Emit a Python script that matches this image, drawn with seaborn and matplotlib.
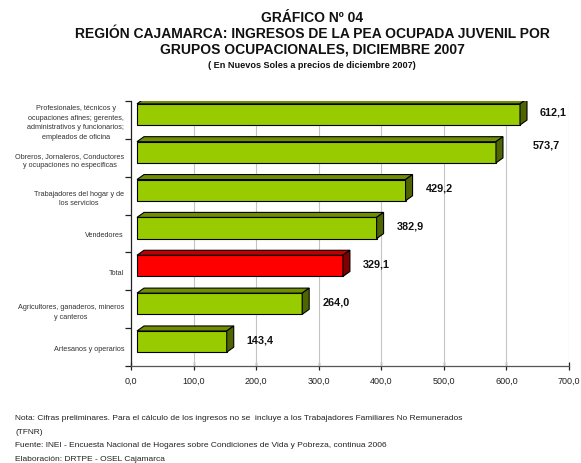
import matplotlib
matplotlib.use("Agg")
import matplotlib.pyplot as plt
import matplotlib.transforms as mtransforms
from matplotlib.patches import Polygon
import seaborn as sns
import pandas as pd

# data
categories = [
    "Profesionales, técnicos y\nocupaciones afines; gerentes,\nadministrativos y funcionarios;\nempleados de oficina",
    "Obreros, Jornaleros, Conductores\ny ocupaciones no especificas",
    "Trabajadores del hogar y de\nlos servicios",
    "Vendedores",
    "Total",
    "Agricultores, ganaderos, mineros\ny canteros",
    "Artesanos y operarios",
]
values = [612.1, 573.7, 429.2, 382.9, 329.1, 264.0, 143.4]
xticks = [0, 100, 200, 300, 400, 500, 600, 700]

title_lines = [
    "GRÁFICO Nº 04",
    "REGIÓN CAJAMARCA: INGRESOS DE LA PEA OCUPADA JUVENIL POR",
    "GRUPOS OCUPACIONALES, DICIEMBRE 2007",
]
subtitle = "( En Nuevos Soles a precios de diciembre 2007)"
notes = [
    "Nota: Cifras preliminares. Para el cálculo de los ingresos no se  incluye a los Trabajadores Familiares No Remunerados",
    "(TFNR)",
    "Fuente: INEI - Encuesta Nacional de Hogares sobre Condiciones de Vida y Pobreza, continua 2006",
    "Elaboración: DRTPE - OSEL Cajamarca",
]

def fmt(v):
    return f"{v:.1f}".replace(".", ",")

sns.set_style("white")
plt.rcParams["font.family"] = ["Liberation Sans", "DejaVu Sans"]

W, H = 581, 464
fig = plt.figure(figsize=(W / 100, H / 100), dpi=100)
ax = fig.add_axes([131 / W, 1 - 367 / H, 438 / W, 265 / H])

df = pd.DataFrame({"cat": categories, "val": values})
front = ["#FF0000" if c == "Total" else "#99CC00" for c in categories]
top_c = ["#C00000" if c == "Total" else "#6F8F00" for c in categories]
side_c = ["#800000" if c == "Total" else "#4F6600" for c in categories]

sns.barplot(data=df, x="val", y="cat", hue="cat", palette=front, legend=False,
            orient="h", width=0.56, edgecolor="black", linewidth=0.8,
            saturation=1, ax=ax, zorder=3)

ax.set_xlim(0, 700)
ax.set_ylim(6.5, -0.5)

# pixel scale of the data
sx = 438 / 700
sy = 265 / 7
ddx = 7 / sx      # depth in x (data units)
ddy = -5 / sy     # depth upwards (data units, y inverted)
shift = ax.transData + mtransforms.ScaledTranslation(0.06, 0.055, fig.dpi_scale_trans)

for i, p in enumerate(ax.patches[:len(values)]):
    p.set_transform(shift)
    x0, y0 = p.get_x(), p.get_y()
    w, h = p.get_width(), p.get_height()
    ytop = y0  # inverted axis: smaller y is on top
    top = Polygon([(x0, ytop), (x0 + w, ytop), (x0 + w + ddx, ytop + ddy), (x0 + ddx, ytop + ddy)],
                  closed=True, facecolor=top_c[i], edgecolor="black", linewidth=0.8,
                  transform=shift, zorder=3)
    side = Polygon([(x0 + w, ytop), (x0 + w + ddx, ytop + ddy), (x0 + w + ddx, y0 + h + ddy), (x0 + w, y0 + h)],
                   closed=True, facecolor=side_c[i], edgecolor="black", linewidth=0.8,
                   transform=shift, zorder=3)
    ax.add_patch(top)
    ax.add_patch(side)

# value labels
for i, v in enumerate(values):
    nx, ny = 13, 2.5
    if i == 1:
        nx, ny = 30, 8
    off = ax.transData + mtransforms.ScaledTranslation((6 + 7 + nx) / 100, (5.5 + ny) / 100,
                                                      fig.dpi_scale_trans)
    ax.text(v, i, fmt(v), transform=off, ha="left", va="center",
            fontsize=7.8, fontweight="bold", color="#111111", zorder=4)

# axes styling
ax.set_xticks(xticks)
ax.set_xticklabels([fmt(t) for t in xticks], fontsize=6.5, color="#222222")
ax.tick_params(axis="x", bottom=True, direction="inout", length=6, width=0.9, color="#222222", pad=4)
ax.set_yticks(range(len(categories)))
ax.set_yticklabels(categories, fontsize=5.2, color="#333333", linespacing=1.5)
for lab in ax.get_yticklabels():
    lab.set_multialignment("center")
ax.tick_params(axis="y", which="major", left=True, length=0, pad=5)
ax.set_yticks([k - 0.5 for k in range(len(categories) + 1)], minor=True)
ax.tick_params(axis="y", which="minor", left=True, direction="out", length=4, width=0.9, color="#222222")
ax.set_xlabel("")
ax.set_ylabel("")

ax.grid(False)
for t in xticks[1:]:
    ax.axvline(t, color="#c4c4c4", linewidth=0.8, zorder=1)

for s in ["top", "right"]:
    ax.spines[s].set_visible(False)
ax.spines["left"].set_color("#222222")
ax.spines["bottom"].set_color("#555555")
ax.spines["left"].set_linewidth(0.9)
ax.spines["bottom"].set_linewidth(0.9)

# titles
tx = 312 / W
for k, line in enumerate(title_lines):
    fig.text(tx, 1 - (18 + 16 * k) / H, line, ha="center", va="center",
             fontsize=10, fontweight="bold", color="#111111")
fig.text(tx, 1 - 65 / H, subtitle, ha="center", va="center",
         fontsize=6.6, fontweight="bold", color="#111111")

# notes
for k, line in enumerate(notes):
    fig.text(15 / W, 1 - (419 + 13.5 * k) / H, line, ha="left", va="center",
             fontsize=6.05, color="#222222")

fig.savefig("out.png", dpi=100)
